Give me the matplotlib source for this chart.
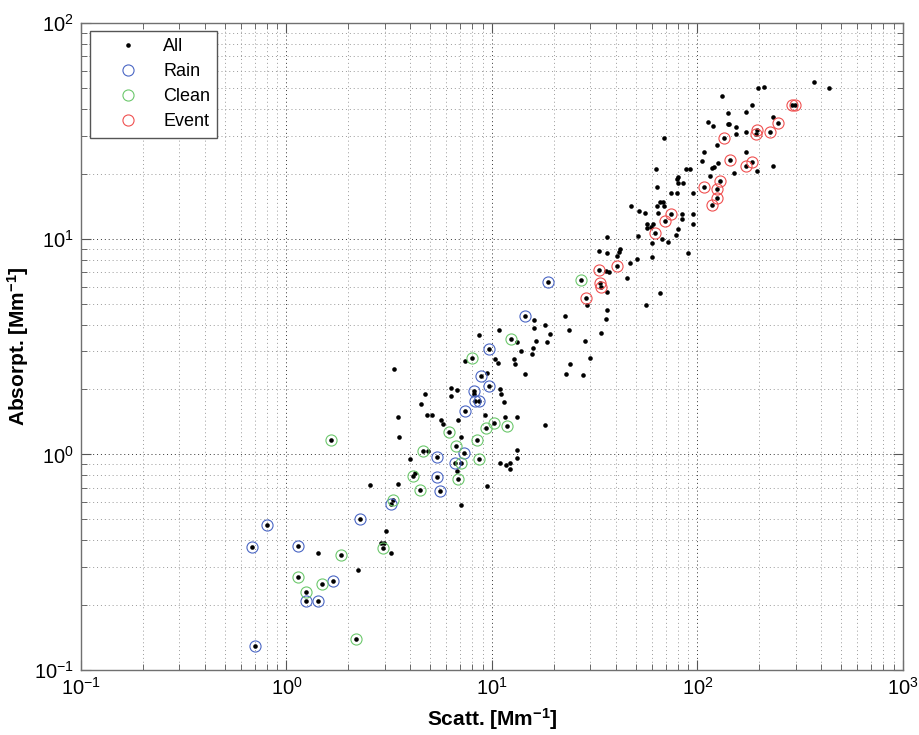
import matplotlib.pyplot as plt
import numpy as np

plt.rcParams['font.family'] = ['Liberation Sans', 'DejaVu Sans']
plt.rcParams['mathtext.fontset'] = 'custom'
plt.rcParams['mathtext.rm'] = 'Liberation Sans'
plt.rcParams['mathtext.it'] = 'Liberation Sans:italic'
plt.rcParams['mathtext.bf'] = 'Liberation Sans:bold'
plt.rcParams['mathtext.default'] = 'regular'

# points only in "All" (circled ones get added below)
other_x = [3.51, 4.86, 3.97, 4.22, 2.54, 3.47, 3.06, 1.42, 2.87, 2.97, 3.23, 2.24,
           22.7, 16.1, 18.1, 16.1, 23.7, 10.8, 19.2, 8.63, 13.3, 16.3, 18.6, 28.3,
           15.9, 13.9, 15.7, 7.35, 10.3, 10.7, 12.8, 12.9, 23.9, 30.0, 3.34, 14.4,
           22.9, 27.6, 9.44, 11.0, 6.33, 6.75, 4.73, 6.35, 8.13, 11.1, 11.4, 4.52,
           4.84, 5.12, 3.47, 5.64, 6.82, 9.25, 11.6, 13.3, 5.78, 18.1, 7.08, 13.2,
           13.2, 10.9, 11.7, 12.3, 12.2, 6.75, 9.44, 7.1,
           63.5, 80.7, 84.7, 74.6, 95.5, 65.7, 68.3, 63.8, 68.7, 47.7, 52.1, 55.3,
           64.5, 83.8, 94.9, 84.4, 57.1, 60.8, 95.5, 56.6, 59.7, 80.7, 78.7, 60.4,
           67.5, 71.9, 51.5, 36.4, 33.0, 36.1, 42.0, 41.5, 40.5, 51.0, 60.4, 89.9,
           46.8, 36.0, 37.3, 36.2, 45.3, 65.7, 29.1, 56.0, 36.4, 35.9, 34.1,
           369, 438, 197, 211, 132, 185, 141, 173, 233, 112, 119, 140,
           142, 154, 173, 154, 68.7, 124, 107, 173, 105, 126, 118, 120,
           194, 233, 150, 63.1, 88.3, 91.7, 115, 80.4, 79.8, 79.3]
other_y = [1.20, 1.04, 0.948, 0.816, 0.718, 0.731, 0.440, 0.350, 0.39, 0.39, 0.350, 0.290,
           4.38, 4.18, 3.96, 3.84, 3.76, 3.76, 3.62, 3.58, 3.32, 3.35, 3.33, 3.35,
           3.12, 3.03, 2.93, 2.71, 2.77, 2.66, 2.76, 2.61, 2.61, 2.80, 2.50, 2.36,
           2.36, 2.33, 2.39, 2.01, 2.04, 1.98, 1.91, 1.86, 1.90, 1.90, 1.75, 1.72,
           1.52, 1.52, 1.49, 1.45, 1.45, 1.52, 1.49, 1.49, 1.39, 1.37, 1.20, 1.05,
           0.965, 0.911, 0.892, 0.910, 0.851, 0.837, 0.713, 0.58,
           17.4, 18.2, 18.2, 16.3, 16.3, 14.8, 14.8, 14.2, 14.2, 14.2, 13.4, 13.1,
           13.2, 13.0, 13.0, 12.3, 11.7, 11.7, 11.7, 11.2, 11.3, 11.1, 10.4, 9.58,
           9.93, 9.69, 10.3, 10.2, 8.77, 8.61, 8.93, 8.71, 8.28, 8.08, 8.23, 8.61,
           7.69, 7.08, 7.01, 5.68, 6.59, 5.60, 4.91, 4.92, 4.67, 4.26, 3.64,
           53.3, 49.8, 49.8, 50.5, 45.9, 41.7, 38.1, 38.7, 36.6, 34.8, 33.2, 34.1,
           34.1, 33.1, 31.3, 30.5, 29.4, 27.2, 25.3, 25.3, 22.9, 22.4, 21.3, 21.5,
           20.7, 21.7, 20.1, 21.1, 21.0, 21.0, 19.5, 19.3, 19.0, 16.2]

rain_x = [14.4, 18.7, 9.68, 8.83, 9.62, 8.18, 8.28, 8.69, 7.37, 7.28, 5.43, 6.62,
          5.43, 5.61, 3.21, 2.27, 0.806, 0.676, 1.14, 1.69, 1.25, 1.43, 0.70]
rain_y = [4.38, 6.30, 3.09, 2.31, 2.07, 1.96, 1.77, 1.77, 1.59, 1.01, 0.975, 0.911,
          0.787, 0.676, 0.590, 0.499, 0.469, 0.372, 0.377, 0.259, 0.209, 0.209, 0.129]

clean_x = [1.64, 4.62, 4.14, 4.45, 3.30, 2.96, 1.85, 1.14, 1.49, 1.25, 2.19, 12.4,
           7.97, 10.2, 9.33, 11.8, 6.19, 8.44, 6.68, 8.60, 7.08, 6.87, 27.1]
clean_y = [1.16, 1.04, 0.793, 0.681, 0.616, 0.369, 0.340, 0.270, 0.250, 0.229, 0.139, 3.41,
           2.80, 1.40, 1.33, 1.35, 1.27, 1.16, 1.09, 0.948, 0.911, 0.766, 6.44]

event_x = [33.0, 40.8, 33.4, 33.8, 28.6, 62.1, 69.3, 74.6, 108, 124, 128, 124,
           117, 144, 173, 185, 134, 194, 192, 225, 247, 288, 298]
event_y = [7.13, 7.47, 6.25, 5.97, 5.33, 10.6, 12.1, 13.0, 17.4, 17.0, 18.5, 15.4,
           14.4, 23.1, 21.7, 22.7, 29.4, 32.0, 30.7, 31.3, 34.5, 41.7, 41.7]

all_x = other_x + rain_x + clean_x + event_x
all_y = other_y + rain_y + clean_y + event_y

fig = plt.figure(figsize=(9.19, 7.35), dpi=100)
ax = fig.add_axes([0.0881, 0.0884, 0.8945, 0.8803])
ax.set_xscale('log')
ax.set_yscale('log')

ax.plot(all_x, all_y, 'o', color='k', ms=3.3, mew=0, label='All', zorder=3)
ax.plot(rain_x, rain_y, 'o', mfc='none', mec='#4a66c4', ms=8, mew=0.8, label='Rain', zorder=4)
ax.plot(clean_x, clean_y, 'o', mfc='none', mec='#6cc86c', ms=8, mew=0.8, label='Clean', zorder=4)
ax.plot(event_x, event_y, 'o', mfc='none', mec='#f05050', ms=8, mew=0.8, label='Event', zorder=4)

ax.set_xlim(0.1, 1000)
ax.set_ylim(0.1, 100)

ax.grid(True, which='major', linestyle=(0, (1, 3)), color='#333333', lw=0.7)
ax.grid(True, which='minor', linestyle=(0, (1, 3)), color='#999999', lw=0.7)
ax.tick_params(which='both', direction='in', top=True, right=True, color='#555555')
ax.tick_params(which='major', length=7, labelsize=14.5, pad=5)
ax.tick_params(which='minor', length=4)
for s in ax.spines.values():
    s.set_color('#707070')
    s.set_linewidth(1.0)

ax.set_xlabel(r'Scatt. [Mm$^{\mathbf{-1}}$]', fontsize=15, fontweight='bold', labelpad=5)
ax.set_ylabel(r'Absorpt. [Mm$^{\mathbf{-1}}$]', fontsize=15, fontweight='bold', labelpad=2)

leg = ax.legend(loc='upper left', bbox_to_anchor=(0.011, 0.988), borderaxespad=0,
                fontsize=13, fancybox=False, framealpha=1, edgecolor='#555555',
                labelspacing=0.45, handletextpad=0.25, handlelength=3.4, borderpad=0.4)
leg.get_frame().set_linewidth(1.0)

fig.savefig('out.png', dpi=100)
